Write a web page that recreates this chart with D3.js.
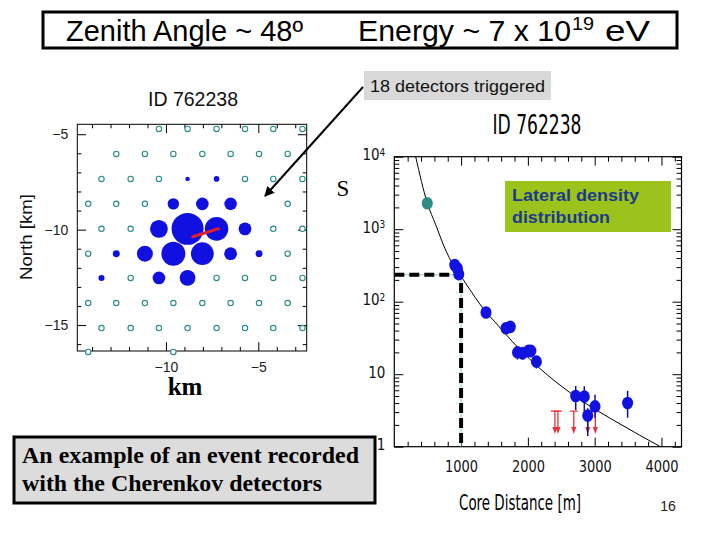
<!DOCTYPE html>
<html><head><meta charset="utf-8">
<script src="https://cdn.jsdelivr.net/npm/d3@7"></script>
<style>html,body{margin:0;padding:0;background:#fff;} svg{display:block;}</style>
</head><body><svg id="c" width="720" height="540"></svg>
<script>
// ---------------- data ----------------
const titleLeft = "Zenith Angle ~ 48º";
const titleRight = "Energy ~ 7 x 10";
const titleExp = "19";
const titleUnit = "eV";
const eventId = "ID 762238";
const calloutText = "18 detectors triggered";
const ldfBoxLines = ["Lateral density", "distribution"];
const captionLines = ["An example of an event recorded", "with the Cherenkov detectors"];
const pageNumber = "16";

// detector map (km)
const mapRowNorth = [-4.72, -6.03, -7.34, -8.65, -9.96, -11.26, -12.53, -13.85, -15.16, -16.41];
const mapIdleEast = [
  [-10.38, -8.83, -7.26, -5.72, -4.19, -2.61],
  [-12.69, -11.14, -9.60, -8.03, -6.50, -4.96, -3.41],
  [-13.49, -11.91, -10.38, -5.72, -4.19, -2.61],
  [-14.21, -12.69, -11.14, -3.41],
  [-13.49, -11.91, -4.19, -2.61],
  [-14.21, -3.41],
  [-11.91, -7.26, -5.72, -4.19, -2.61],
  [-14.21, -12.69, -11.14, -9.60, -8.03, -6.50, -4.96, -3.41],
  [-13.49, -11.91, -10.38, -8.83, -7.26, -5.72, -4.19, -2.61],
  [-14.21, -9.60]
];
const hitEast    = [-8.83, -7.26, -9.60, -8.03, -6.50, -10.38, -8.83, -7.26, -5.72, -12.69, -11.14, -9.60, -8.03, -6.50, -4.96, -13.49, -10.38, -8.83];
const hitNorth   = [-7.34, -7.34, -8.65, -8.65, -8.65, -9.96, -9.96, -9.96, -9.96, -11.26, -11.26, -11.26, -11.26, -11.26, -11.26, -12.53, -12.53, -12.53];
const hitDensity = [2.7, 3.6, 14.9, 20, 19.4, 71, 2277, 288, 21, 5.0, 45, 321, 240, 21, 4.9, 4.0, 20, 43];
const showerAxisEast  = [-8.55, -7.15];
const showerAxisNorth = [-10.37, -9.95];
const mapXLabels = [-10, -5];
const mapYLabels = [-5, -10, -15];

// lateral distribution
const ldfR  = [494, 905, 945, 965, 1373, 1672, 1737, 1845, 1920, 2009, 2045, 2128, 2716, 2845, 2896, 3005, 3493];
const ldfS  = [2277, 321, 288, 240, 71, 43, 45, 20, 19.4, 21, 21, 14.9, 5.0, 4.9, 2.7, 3.6, 4.0];
const ldfLo = [2277, 321, 288, 240, 71, 40, 42, 16, 16, 17, 17, 12, 3.2, 3.1, 1.4, 2.5, 2.5];
const ldfHi = [2277, 321, 288, 240, 71, 47, 49, 24, 24, 25, 25, 17.4, 6.9, 6.8, 3.4, 5.2, 5.9];
const limR = [2405, 2450, 2687, 2896, 3010];
const limS = [3.1, 3.1, 3.1, 3.1, 3.1];
const fitR = [320, 494, 620, 759, 883, 994, 1158, 1383, 1480, 1770, 2149, 2716, 3363, 3985];
const fitS = [10000, 2300, 1150, 540, 320, 228, 135, 70, 56, 28, 12.7, 4.9, 2.1, 1.0];
const refR = 1000, refS = 235;
const ldfXLabels = [1000, 2000, 3000, 4000];
const ldfYLabels = [1, 10, 100, 1000, 10000];
const ldfXTitle = "Core Distance [m]";
const ldfYTitle = "S";
const mapYTitle = "North [km]";
const mapXTitle = "km";

// ---------------- drawing ----------------
const svg = d3.select("#c");
const SANS = "'Liberation Sans', Arial, sans-serif";
const NARROW = "'Liberation Sans Narrow', 'Arial Narrow', 'DejaVu Sans Condensed', sans-serif";
const SERIF = "'Liberation Serif', 'Times New Roman', serif";
svg.append("rect").attr("width", 720).attr("height", 540).attr("fill", "#fff");

// title
svg.append("rect").attr("x", 43).attr("y", 12).attr("width", 634).attr("height", 36)
  .attr("fill", "#fff").attr("stroke", "#000").attr("stroke-width", 3);
const tt = svg.append("g").attr("font-family", SANS).attr("fill", "#000");
tt.append("text").attr("x", 66).attr("y", 41).attr("font-size", 29).attr("textLength", 237).attr("lengthAdjust", "spacingAndGlyphs").text(titleLeft);
tt.append("text").attr("x", 358).attr("y", 41).attr("font-size", 29).attr("textLength", 213).attr("lengthAdjust", "spacingAndGlyphs").text(titleRight);
tt.append("text").attr("x", 572).attr("y", 30).attr("font-size", 19).attr("textLength", 22).attr("lengthAdjust", "spacingAndGlyphs").text(titleExp);
tt.append("text").attr("x", 605).attr("y", 41).attr("font-size", 29).attr("textLength", 45).attr("lengthAdjust", "spacingAndGlyphs").text(titleUnit);

// callout
svg.append("rect").attr("x", 364).attr("y", 71).attr("width", 187).attr("height", 29).attr("fill", "#d9d9d9");
svg.append("text").attr("x", 370).attr("y", 92).attr("font-family", SANS).attr("font-size", 16).attr("fill", "#111")
  .attr("textLength", 175).attr("lengthAdjust", "spacingAndGlyphs").text(calloutText);
svg.append("defs").append("marker").attr("id", "ah").attr("viewBox", "0 0 10 10").attr("refX", 9).attr("refY", 5)
  .attr("markerWidth", 5).attr("markerHeight", 5).attr("orient", "auto")
  .append("path").attr("d", "M0,0L10,5L0,10z").attr("fill", "#000");
svg.append("line").attr("x1", 363).attr("y1", 87).attr("x2", 265).attr("y2", 196)
  .attr("stroke", "#000").attr("stroke-width", 2).attr("marker-end", "url(#ah)");

// ---------- left map ----------
const mx = d3.scaleLinear().domain([-14.8, -2.38]).range([77.3, 306.7]);
const my = d3.scaleLinear().domain([-16.36, -4.48]).range([351, 124.3]);
const rScale = d3.scaleLog().domain([1, 10000]).range([0.2, 19]);
const mapG = svg.append("g");
svg.append("text").attr("x", 193).attr("y", 106).attr("text-anchor", "middle").attr("font-family", SANS)
  .attr("font-size", 20).attr("fill", "#111").attr("textLength", 90).attr("lengthAdjust", "spacingAndGlyphs").text(eventId);

const mapBox = {l: mx.range()[0], r: mx.range()[1], t: my.range()[1], b: my.range()[0]};
const mTicksX = d3.range(-14, -2, 1);
const mTicksY = d3.range(-16, -4, 1);
function mapTick(axisFn, scale, vals, tr) {
  const g = mapG.append("g").attr("transform", tr)
    .call(axisFn(scale).tickValues(vals).tickSize(-4).tickFormat(""));
  g.select(".domain").remove();
  g.selectAll(".tick line").attr("stroke", "#000").attr("stroke-width", 1)
    .filter(d => d % 5 === 0).each(function() {
      const l = d3.select(this);
      if (l.attr("y2") !== null) l.attr("y2", +l.attr("y2") * 2.2);
      if (l.attr("x2") !== null) l.attr("x2", +l.attr("x2") * 2.2);
    });
}
mapTick(d3.axisBottom, mx, mTicksX, `translate(0,${mapBox.b})`);
mapTick(d3.axisTop, mx, mTicksX, `translate(0,${mapBox.t})`);
mapTick(d3.axisLeft, my, mTicksY, `translate(${mapBox.l},0)`);
mapTick(d3.axisRight, my, mTicksY, `translate(${mapBox.r},0)`);
mapG.append("rect").attr("x", mapBox.l).attr("y", mapBox.t).attr("width", mapBox.r - mapBox.l).attr("height", mapBox.b - mapBox.t)
  .attr("fill", "none").attr("stroke", "#000").attr("stroke-width", 1);

// labels of map axes
const mxl = mapG.append("g").attr("transform", `translate(0,${mapBox.b})`)
  .call(d3.axisBottom(mx).tickValues(mapXLabels).tickSize(0).tickPadding(11).tickFormat(d => "\u2212" + Math.abs(d)));
mxl.select(".domain").remove();
mxl.selectAll("text").attr("font-family", SANS).attr("font-size", 14).attr("fill", "#222");
const myl = mapG.append("g").attr("transform", `translate(${mapBox.l},0)`)
  .call(d3.axisLeft(my).tickValues(mapYLabels).tickSize(0).tickPadding(9).tickFormat(d => "\u2212" + Math.abs(d)));
myl.select(".domain").remove();
myl.selectAll("text").attr("font-family", SANS).attr("font-size", 14).attr("fill", "#222");

svg.append("text").attr("transform", "translate(32,237) rotate(-90)").attr("text-anchor", "middle")
  .attr("font-family", SANS).attr("font-size", 16).attr("fill", "#111")
  .attr("textLength", 86).attr("lengthAdjust", "spacingAndGlyphs").text(mapYTitle);
svg.append("text").attr("x", 185).attr("y", 395).attr("text-anchor", "middle").attr("font-family", SERIF)
  .attr("font-weight", "bold").attr("font-size", 25).attr("fill", "#000").text(mapXTitle);

// idle detectors
const idle = [];
mapIdleEast.forEach((row, i) => row.forEach(e => idle.push({e, n: mapRowNorth[i]})));
mapG.append("g").selectAll("circle").data(idle).join("circle")
  .attr("cx", d => mx(d.e)).attr("cy", d => my(d.n)).attr("r", 2.7)
  .attr("fill", "#fff").attr("stroke", "#2a8a8a").attr("stroke-width", 1.1);
// hit detectors
const hits = hitEast.map((e, i) => ({e, n: hitNorth[i], s: hitDensity[i]}));
mapG.append("g").selectAll("circle").data(hits).join("circle")
  .attr("cx", d => mx(d.e)).attr("cy", d => my(d.n)).attr("r", d => rScale(d.s))
  .attr("fill", "#1010e0");
mapG.append("line")
  .attr("x1", mx(showerAxisEast[0])).attr("y1", my(showerAxisNorth[0]))
  .attr("x2", mx(showerAxisEast[1])).attr("y2", my(showerAxisNorth[1]))
  .attr("stroke", "#e0202a").attr("stroke-width", 3).attr("stroke-linecap", "round");

// ---------- right LDF ----------
const lx = d3.scaleLinear().domain([0, 4300]).range([394.3, 681.5]);
const ly = d3.scaleLog().domain([1, 10000]).range([446.7, 156.7]);
const ldfG = svg.append("g");
const lb = {l: 394.3, r: 681.5, t: 156.7, b: 446.7};
svg.append("text").attr("x", 537).attr("y", 134).attr("text-anchor", "middle").attr("font-family", NARROW)
  .attr("font-size", 27).attr("fill", "#000").attr("textLength", 89).attr("lengthAdjust", "spacingAndGlyphs").text(eventId);

const xT = d3.range(200, 4300, 200);
const yT = ly.ticks();
function ldfTick(axisFn, scale, vals, tr, isMajor, minor, major) {
  const g = ldfG.append("g").attr("transform", tr)
    .call(axisFn(scale).tickValues(vals).tickSize(-minor).tickFormat(""));
  g.select(".domain").remove();
  g.selectAll(".tick line").attr("stroke", "#000").attr("stroke-width", 1)
    .filter(isMajor).each(function() {
      const l = d3.select(this);
      if (l.attr("y2") !== null) l.attr("y2", +l.attr("y2") * major / minor);
      if (l.attr("x2") !== null) l.attr("x2", +l.attr("x2") * major / minor);
    });
}
const xMaj = d => d % 1000 === 0;
const yMaj = d => Math.abs(Math.log10(d) - Math.round(Math.log10(d))) < 1e-6;
ldfTick(d3.axisBottom, lx, xT, `translate(0,${lb.b})`, xMaj, 5, 9);
ldfTick(d3.axisTop, lx, xT, `translate(0,${lb.t})`, xMaj, 5, 9);
ldfTick(d3.axisLeft, ly, yT, `translate(${lb.l},0)`, yMaj, 5, 9);
ldfTick(d3.axisRight, ly, yT, `translate(${lb.r},0)`, yMaj, 5, 9);
ldfG.append("rect").attr("x", lb.l).attr("y", lb.t).attr("width", lb.r - lb.l).attr("height", lb.b - lb.t)
  .attr("fill", "none").attr("stroke", "#000").attr("stroke-width", 1.2);

const xl = ldfG.append("g").attr("transform", `translate(0,${lb.b})`)
  .call(d3.axisBottom(lx).tickValues(ldfXLabels).tickSize(0).tickPadding(14).tickFormat(d3.format("d")));
xl.select(".domain").remove();
xl.selectAll("text").attr("font-family", NARROW).attr("font-size", 16).attr("fill", "#111")
  .attr("textLength", 33).attr("lengthAdjust", "spacingAndGlyphs");
const yl = ldfG.append("g").attr("transform", `translate(${lb.l},0)`)
  .call(d3.axisLeft(ly).tickValues(ldfYLabels).tickSize(0).tickPadding(9).tickFormat(""));
yl.select(".domain").remove();
yl.selectAll(".tick text").each(function(d) {
  const t = d3.select(this).attr("font-family", NARROW).attr("font-size", 15).attr("fill", "#111").attr("dy", "0.2em");
  const p = Math.round(Math.log10(d));
  if (p <= 1) { t.text(d3.format("d")(d)); }
  else {
    t.append("tspan").text("10");
    t.append("tspan").attr("dy", "-0.45em").attr("font-size", 10).text(p);
  }
});
svg.append("text").attr("x", 343).attr("y", 196).attr("text-anchor", "middle").attr("font-family", SERIF)
  .attr("font-size", 23).attr("fill", "#000").text(ldfYTitle);
svg.append("text").attr("x", 520).attr("y", 510).attr("text-anchor", "middle").attr("font-family", NARROW)
  .attr("font-size", 22).attr("fill", "#000").attr("textLength", 122).attr("lengthAdjust", "spacingAndGlyphs").text(ldfXTitle);

// green label
svg.append("rect").attr("x", 505).attr("y", 181).attr("width", 166).attr("height", 51).attr("fill", "#9cc31b");
svg.append("g").selectAll("text").data(ldfBoxLines).join("text")
  .attr("x", 512).attr("y", (d, i) => 201 + i * 21.5).attr("font-family", SANS).attr("font-weight", "bold")
  .attr("font-size", 16).attr("fill", "#1c3a8c")
  .attr("textLength", (d, i) => i === 0 ? 127 : 98).attr("lengthAdjust", "spacingAndGlyphs").text(d => d);

// reference dashed lines at 1000 m
const clipId = "ldfclip";
svg.append("clipPath").attr("id", clipId).append("rect").attr("x", lb.l).attr("y", lb.t).attr("width", lb.r - lb.l).attr("height", lb.b - lb.t);
const plot = ldfG.append("g").attr("clip-path", `url(#${clipId})`);
const refPath = `M${lx(0)},${ly(refS)}L${lx(refR)},${ly(refS)}L${lx(refR)},${ly(1)}`;
plot.append("path").attr("d", refPath).attr("fill", "none").attr("stroke", "#8cc8d0").attr("stroke-width", 1);
plot.append("path").attr("d", refPath).attr("fill", "none").attr("stroke", "#000").attr("stroke-width", 4)
  .attr("stroke-dasharray", "10,5");

// fit curve
plot.append("path").datum(fitR.map((r, i) => [r, fitS[i]]))
  .attr("d", d3.line().x(d => lx(d[0])).y(d => ly(d[1])).curve(d3.curveMonotoneX))
  .attr("fill", "none").attr("stroke", "#000").attr("stroke-width", 1);

// upper limits (red arrows)
const lim = plot.append("g").attr("stroke", "#e8303a").attr("fill", "#e8303a");
limR.forEach((r, i) => {
  const x = lx(r), y = ly(limS[i]);
  lim.append("line").attr("x1", x - 4).attr("x2", x + 4).attr("y1", y).attr("y2", y).attr("stroke-width", 1.3);
  lim.append("line").attr("x1", x).attr("x2", x).attr("y1", y).attr("y2", y + 17).attr("stroke-width", 1.3);
  lim.append("path").attr("d", `M${x - 2.5},${y + 16}L${x + 2.5},${y + 16}L${x},${y + 23}Z`).attr("stroke", "none");
});

// error bars + points
const pts = ldfR.map((r, i) => ({r, s: ldfS[i], lo: ldfLo[i], hi: ldfHi[i], i}));
plot.append("g").selectAll("line").data(pts).join("line")
  .attr("x1", d => lx(d.r)).attr("x2", d => lx(d.r)).attr("y1", d => ly(d.lo)).attr("y2", d => ly(d.hi))
  .attr("stroke", "#10108a").attr("stroke-width", 1.5);
plot.append("g").selectAll("ellipse").data(pts).join("ellipse")
  .attr("cx", d => lx(d.r)).attr("cy", d => ly(d.s)).attr("rx", 5.5).attr("ry", 6.3)
  .attr("fill", d => d.i === 0 ? "#2e8b86" : "#1212e0");

// caption box
svg.append("rect").attr("x", 14).attr("y", 437).attr("width", 361).attr("height", 66)
  .attr("fill", "#dcdcdc").attr("stroke", "#000").attr("stroke-width", 3);
svg.append("g").selectAll("text").data(captionLines).join("text")
  .attr("x", 22).attr("y", (d, i) => 463 + i * 28).attr("font-family", SERIF).attr("font-weight", "bold")
  .attr("font-size", 23).attr("fill", "#000")
  .attr("textLength", (d, i) => i === 0 ? 337 : 300).attr("lengthAdjust", "spacingAndGlyphs").text(d => d);

svg.append("text").attr("x", 668).attr("y", 511).attr("text-anchor", "middle").attr("font-family", SANS)
  .attr("font-size", 14).attr("fill", "#222").text(pageNumber);
</script></body></html>
